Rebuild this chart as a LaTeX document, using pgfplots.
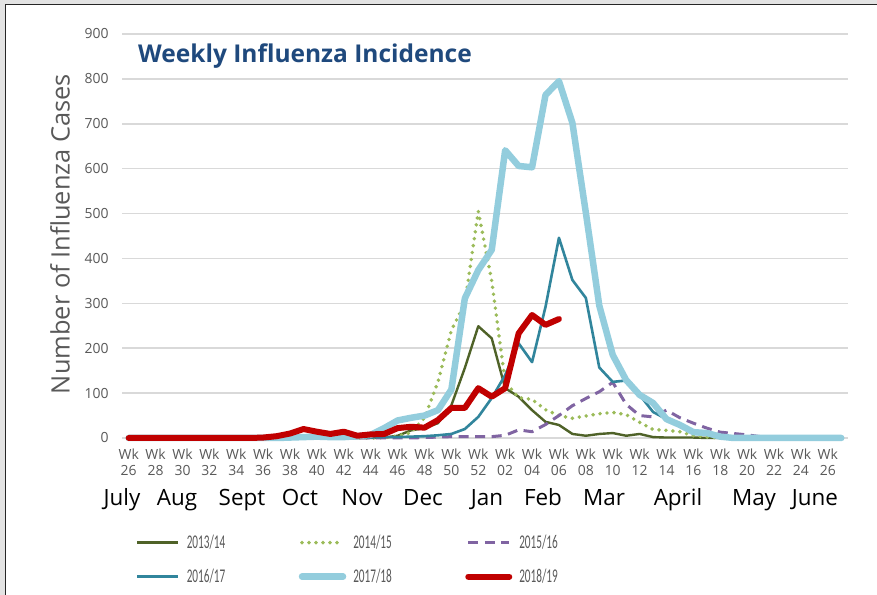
\documentclass[border=0pt]{standalone}
\usepackage{pgfplots}
\pgfplotsset{compat=1.18}
\usepackage{pgfplotstable}
\usepackage{fontspec}
\setmainfont{Open Sans}
\newfontfamily\legfont[FakeStretch=0.58]{Carlito}
\definecolor{c1314}{HTML}{4F6228}
\definecolor{c1415}{HTML}{9BBB59}
\definecolor{c1516}{HTML}{8064A2}
\definecolor{c1617}{HTML}{31859C}
\definecolor{c1718}{HTML}{93CDDD}
\definecolor{c1819}{HTML}{C00000}
\definecolor{titleblue}{HTML}{1F497D}
\definecolor{txtgray}{HTML}{595959}
\definecolor{gridgray}{HTML}{D9D9D9}
\definecolor{bggray}{HTML}{E3E3E3}

\pgfplotstableread{
i a b c d e
0 0 0 0 0 0
1 0 0 0 0 0
2 0 0 0 0 0
3 0 0 0 0 0
4 0 0 0 0 0
5 0 0 0 0 0
6 0 0 0 0 0
7 0 0 0 0 0
8 0 0 0 0 0
9 0 0 0 0 0
10 0 0 0 0 0
11 0 0 0 0 0
12 0 0 0 0 1
13 0 0 0 0 2
14 0 0 0 0 3
15 0 0 0 0 2
16 0 0 0 0 2
17 0 0 0 0 4
18 0 0 0 1 7
19 1 1 0 2 22
20 5 4 0 2 39
21 17 12 0 3 45
22 22 45 1 4 50
23 33 125 2 6 62
24 73 240 3 9 108
25 156 300 3 20 311
26 249 505 3 47 374
27 222 350 3 89 419
28 111 125 6 140 641
29 92 90 18 211 606
30 62 86 14 169 603
31 36 63 30 292 764
32 29 50 50 446 795
33 9 44 72 352 702
34 5 49 88 312 502
35 9 54 103 157 295
36 11 57 124 125 185
37 5 52 75 128 129
38 9 35 50 96 96
39 2 19 47 58 78
40 1 17 62 42 42
41 1 14 45 27 29
42 1 5 33 10 13
43 0 2 22 8 11
44 0 0 13 3 3
45 0 0 10 1 0
46 0 0 7 0 0
47 0 0 3 0 0
48 0 0 1 0 0
49 0 0 0 0 0
50 0 0 0 0 0
51 0 0 0 0 0
52 0 0 0 0 0
53 0 0 0 0 0
}\flu

\pgfplotstableread{
i f
0 0
1 0
2 0
3 0
4 0
5 0
6 0
7 0
8 0
9 0
10 1
11 4
12 10
13 20
14 14
15 9
16 14
17 5
18 8
19 9
20 22
21 25
22 23
23 40
24 67
25 67
26 111
27 92
28 111
29 233
30 274
31 252
32 265
}\fluRed

\begin{document}
\begin{tikzpicture}[x=1bp,y=1bp]
\path[use as bounding box] (0,0) rectangle (877,595);
\fill[bggray] (0,0) rectangle (877,595);
\fill[white] (5,0) rectangle (877,591);
\draw[black!85, line width=1.3bp] (5.6,0) -- (5.6,590.4) -- (877,590.4);

\begin{axis}[
  at={(122bp,157bp)}, anchor=south west,
  scale only axis, width=726bp, height=404bp,
  xmin=-0.5, xmax=53.5, ymin=0, ymax=900,
  clip=false,
  axis line style={draw=none},
  tick style={draw=none},
  ymajorgrids,
  major grid style={gridgray, line width=1.5bp},
  ytick={0,100,...,900},
  yticklabel style={font=\fontsize{14}{16}\selectfont, text=txtgray, xshift=-10bp, /pgf/number format/assume math mode=true},
  xtick={0,2,...,52},
  xticklabels={{Wk\\26},{Wk\\28},{Wk\\30},{Wk\\32},{Wk\\34},{Wk\\36},{Wk\\38},{Wk\\40},{Wk\\42},{Wk\\44},{Wk\\46},{Wk\\48},{Wk\\50},{Wk\\52},{Wk\\02},{Wk\\04},{Wk\\06},{Wk\\08},{Wk\\10},{Wk\\12},{Wk\\14},{Wk\\16},{Wk\\18},{Wk\\20},{Wk\\22},{Wk\\24},{Wk\\26}},
  xticklabel style={align=center, font=\fontsize{14}{16.5}\selectfont, text=txtgray, yshift=-7bp},
  no markers,
  every axis plot/.append style={line join=round},
  legend columns=3,
  legend image code/.code={\path (0bp,0bp) (45bp,0bp); \draw[#1] (2bp,0bp) -- (43bp,0bp);},
  legend style={
    at={(axis description cs:0.0165,-0.24)}, anchor=north west,
    draw=none, fill=none, inner sep=0pt, row sep=19bp,
    font=\legfont\fontsize{19.5}{22}\selectfont, text=txtgray,
    nodes={inner sep=0pt, anchor=west, text width=110bp, align=left},
    /tikz/every odd column/.append style={column sep=5bp}
  },
]
\addplot[c1314, line width=2.4bp] table[x=i, y=a] {\flu};
\addlegendentry{2013/14}
\addplot[c1415, line width=3.9bp, line cap=round, dash pattern=on 0bp off 7bp] table[x=i, y=b] {\flu};
\addlegendentry{2014/15}
\addplot[c1516, line width=3bp, dash pattern=on 10bp off 6.5bp] table[x=i, y=c] {\flu};
\addlegendentry{2015/16}
\addplot[c1617, line width=2.6bp] table[x=i, y=d] {\flu};
\addlegendentry{2016/17}
\addplot[c1718, line width=6.5bp, line cap=round] table[x=i, y=e] {\flu};
\addlegendentry{2017/18}
\addplot[c1819, line width=6bp, line cap=round] table[x=i, y=f] {\fluRed};
\addlegendentry{2018/19}
\end{axis}

\node[anchor=base west, inner sep=0, font=\bfseries\fontsize{24.6}{29}\selectfont, text=titleblue] at (138,532) {Weekly Influenza Incidence};
\node[rotate=90, inner sep=0, font=\fontsize{25.5}{30}\selectfont, text=txtgray] at (60,361) {Number of Influenza Cases};

\foreach \m/\xx in {July/122, Aug/177, Sept/242, Oct/300, Nov/362, Dec/423, Jan/487, Feb/543, Mar/604, April/678, May/754, June/815}{
  \node[anchor=base, inner sep=0, font=\fontsize{22.5}{26}\selectfont] at (\xx,89) {\m};
}
\end{tikzpicture}
\end{document}
